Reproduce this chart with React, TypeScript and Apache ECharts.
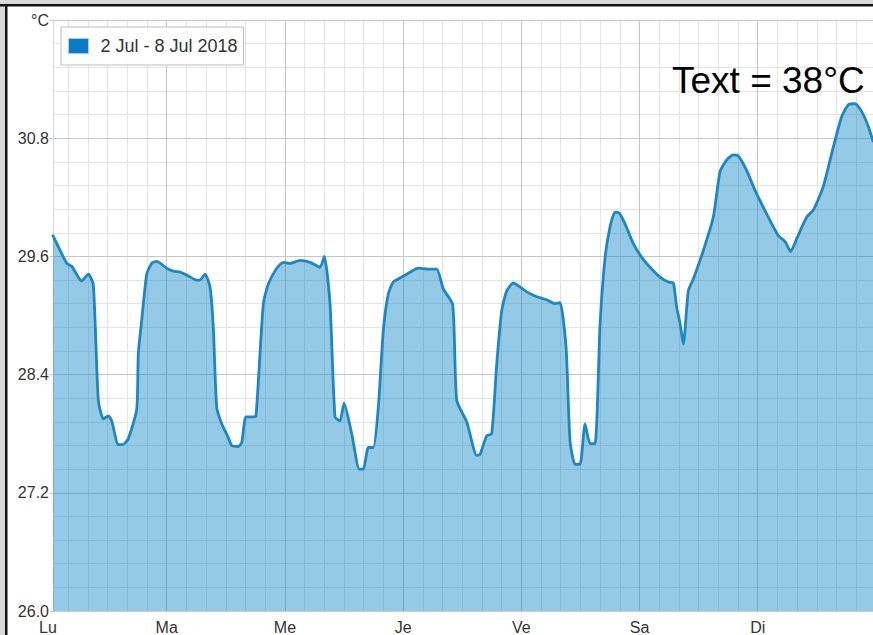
import React, { useEffect, useRef } from 'react';
import * as echarts from 'echarts';

const seriesName = '2 Jul - 8 Jul 2018';
const dayLabels = ['Lu', 'Ma', 'Me', 'Je', 'Ve', 'Sa', 'Di'];
const dayStartHours = [0, 24, 48, 72, 96, 120, 144];
const yTickValues = [26, 27.2, 28.4, 29.6, 30.8, 32];
const unitLabel = '°C';
const annotation = 'Text = 38°C';

// hours since Monday 00:00
const hours = [
  0.91, 3.7, 4.71, 6.74, 8.08, 9.1, 10.11, 11.13, 12.14, 12.83, 14.17, 15.07, 16.2, 17.91, 18.23, 18.92,
  19.94, 20.95, 21.97, 22.99, 24.0, 25.34, 26.7, 28.06, 30.09, 30.76, 31.78, 32.79, 33.46, 34.15, 35.17,
  36.51, 37.2, 38.54, 39.23, 40.1, 41.58, 42.13, 43.62, 44.63, 46.34, 47.68, 49.04, 51.07, 53.1, 55.13,
  56.0, 57.16, 58.17, 59.19, 60.0, 61.56, 63.11, 63.92, 64.94, 65.95, 66.97, 67.98, 69.0, 70.01, 71.37,
  73.4, 75.09, 77.12, 78.82, 80.16, 82.07, 82.89, 84.92, 86.95, 87.62, 88.98, 89.99, 91.01, 92.02, 93.04,
  94.38, 95.74, 97.1, 99.13, 101.16, 102.85, 103.86, 105.08, 105.89, 106.91, 107.92, 108.94, 109.95,
  110.97, 112.0, 113.01, 114.02, 115.03, 115.9, 117.06, 118.74, 120.45, 122.13, 124.16, 125.85, 126.87,
  127.56, 128.23, 128.9, 129.91, 130.93, 132.96, 134.99, 136.35, 137.71, 139.05, 140.06, 141.77, 143.46,
  145.83, 148.19, 149.55, 150.7, 151.92, 153.95, 155.29, 157.32, 159.35, 161.06, 162.4, 163.76, 165.12,
  166.46, 167.41,
];

const temps = [
  29.81, 29.53, 29.5, 29.35, 29.42, 29.31, 28.14, 27.95, 27.98, 27.93, 27.69, 27.69, 27.75, 28.05, 28.61, 28.95,
  29.42, 29.53, 29.55, 29.52, 29.48, 29.45, 29.44, 29.41, 29.36, 29.36, 29.42, 29.29, 28.88, 28.07, 27.9,
  27.76, 27.68, 27.67, 27.71, 27.97, 27.97, 27.98, 29.12, 29.32, 29.48, 29.54, 29.53, 29.56, 29.54, 29.49,
  29.6, 29.12, 27.97, 27.93, 28.11, 27.8, 27.44, 27.44, 27.66, 27.66, 28.07, 28.85, 29.22, 29.34, 29.38,
  29.44, 29.48, 29.47, 29.47, 29.27, 29.11, 28.14, 27.92, 27.58, 27.59, 27.78, 27.8, 28.51, 29.05, 29.25,
  29.33, 29.29, 29.24, 29.19, 29.16, 29.12, 29.13, 28.68, 27.73, 27.49, 27.49, 27.9, 27.7,
  27.7, 28.92, 29.59, 29.9, 30.05, 30.04, 29.93, 29.73, 29.59, 29.49, 29.39, 29.34, 29.33,
  29.08, 28.92, 28.71, 29.25, 29.37, 29.66, 30.0, 30.46, 30.58, 30.63, 30.62, 30.47, 30.27,
  30.03, 29.81, 29.75, 29.65, 29.78, 30.0, 30.07, 30.31, 30.71, 31.02, 31.14, 31.15, 31.07,
  30.92, 30.77,
];

const FONT = '"Liberation Sans", Arial, sans-serif';

export default function App() {
  const ref = useRef<HTMLDivElement>(null);

  useEffect(() => {
    if (!ref.current) return;
    const chart = echarts.init(ref.current, undefined, { renderer: 'svg' });

    const xMin = hours[0];
    const xMax = hours[hours.length - 1];
    const labelValues = dayStartHours.map((h) => Math.max(h, xMin));
    const majorX = dayStartHours.filter((h) => h > xMin);
    const minorX: number[] = [];
    for (let h = 4; h < xMax; h += 4) if (h % 24 !== 0) minorX.push(h);
    const minorY: number[] = [];
    for (let i = 1; i < 25; i++) if (i % 5 !== 0) minorY.push(+(26 + i * 0.24).toFixed(2));

    const option: any = {
      animation: false,
      backgroundColor: '#ffffff',
      textStyle: { fontFamily: FONT },
      grid: { left: 53, right: 0, top: 20, bottom: 24, containLabel: false },
      legend: {
        left: 61,
        top: 27,
        orient: 'horizontal',
        padding: [10, 6, 10, 7],
        backgroundColor: '#ffffff',
        borderColor: '#bbbbbb',
        borderWidth: 1,
        itemWidth: 20,
        itemHeight: 15,
        selectedMode: false,
        textStyle: { fontSize: 18, color: '#333333', fontFamily: FONT, padding: [0, 0, 0, 7] },
        data: [
          {
            name: seriesName,
            icon: 'rect',
            itemStyle: { color: '#0a7cc6', borderColor: '#a9cde6', borderWidth: 1 },
          },
        ],
      },
      xAxis: [
        {
          type: 'value',
          min: xMin,
          max: xMax,
          z: 1,
          axisLine: { show: true, onZero: false, lineStyle: { color: '#cccccc', width: 1 } },
          axisTick: { show: false, customValues: majorX },
          axisLabel: {
            customValues: labelValues,
            color: '#333333',
            fontSize: 16,
            lineHeight: 14,
            fontFamily: FONT,
            margin: 9,
            formatter: (v: number) => {
              const idx = labelValues.findIndex((lv) => Math.abs(lv - v) < 1e-6);
              if (idx === 0) return '{first|' + dayLabels[0] + '}';
              return idx >= 0 ? dayLabels[idx] : '';
            },
            rich: {
              first: { padding: [0, 10, 0, 0], fontSize: 16, lineHeight: 14, color: '#333333', fontFamily: FONT },
            },
          },
          splitLine: { show: true, lineStyle: { color: '#c6c6c6', width: 1 } },
        },
        {
          type: 'value',
          min: xMin,
          max: xMax,
          z: 0,
          position: 'bottom',
          axisLine: { show: false },
          axisTick: { show: false, customValues: minorX },
          axisLabel: { show: false },
          splitLine: { show: true, lineStyle: { color: '#e4e4e4', width: 1 } },
        },
      ],
      yAxis: [
        {
          type: 'value',
          min: 26,
          max: 32,
          z: 1,
          axisLine: { show: true, onZero: false, lineStyle: { color: '#d6d6d6', width: 1 } },
          axisTick: { show: true, length: 3, customValues: yTickValues, lineStyle: { color: '#c6c6c6' } },
          axisLabel: {
            customValues: yTickValues,
            color: '#333333',
            fontSize: 16,
            lineHeight: 14,
            fontFamily: FONT,
            margin: 4,
            formatter: (v: number) => (v >= 32 ? unitLabel : v.toFixed(1)),
          },
          splitLine: { show: true, lineStyle: { color: '#c6c6c6', width: 1 } },
        },
        {
          type: 'value',
          min: 26,
          max: 32,
          z: 0,
          position: 'left',
          axisLine: { show: false },
          axisTick: { show: false, customValues: minorY },
          axisLabel: { show: false },
          splitLine: { show: true, lineStyle: { color: '#e4e4e4', width: 1 } },
        },
      ],
      series: [
        {
          type: 'line',
          name: seriesName,
          xAxisIndex: 0,
          yAxisIndex: 0,
          data: hours.map((h, i) => [h, temps[i]]),
          showSymbol: false,
          symbol: 'none',
          smooth: 0.2,
          lineStyle: { color: '#1f87c0', width: 2.8, join: 'round', cap: 'round' },
          itemStyle: { color: '#1f87c0' },
          areaStyle: { color: '#0080c0', opacity: 0.42, origin: 'start' },
          z: 2,
        },
      ],
      graphic: [
        { type: 'rect', silent: true, shape: { x: 0, y: 0, width: 873, height: 4 }, style: { fill: '#d9d9d9' }, z: 20 },
        { type: 'rect', silent: true, shape: { x: 0, y: 4, width: 873, height: 2.5 }, style: { fill: '#151515' }, z: 21 },
        { type: 'rect', silent: true, shape: { x: 0, y: 0, width: 5, height: 635 }, style: { fill: '#d9d9d9' }, z: 20 },
        { type: 'rect', silent: true, shape: { x: 5, y: 4, width: 2.5, height: 631 }, style: { fill: '#151515' }, z: 21 },
        {
          type: 'text',
          silent: true,
          x: 672,
          y: 80,
          z: 22,
          style: {
            text: annotation,
            fontSize: 37,
            fontFamily: FONT,
            fill: '#000000',
            align: 'left',
            verticalAlign: 'middle',
          },
        },
      ],
    };

    chart.setOption(option);
    return () => {
      chart.dispose();
    };
  }, []);

  return (
    <div
      ref={ref}
      style={{ position: 'fixed', left: 0, top: 0, width: 873, height: 635, background: '#ffffff' }}
    />
  );
}
